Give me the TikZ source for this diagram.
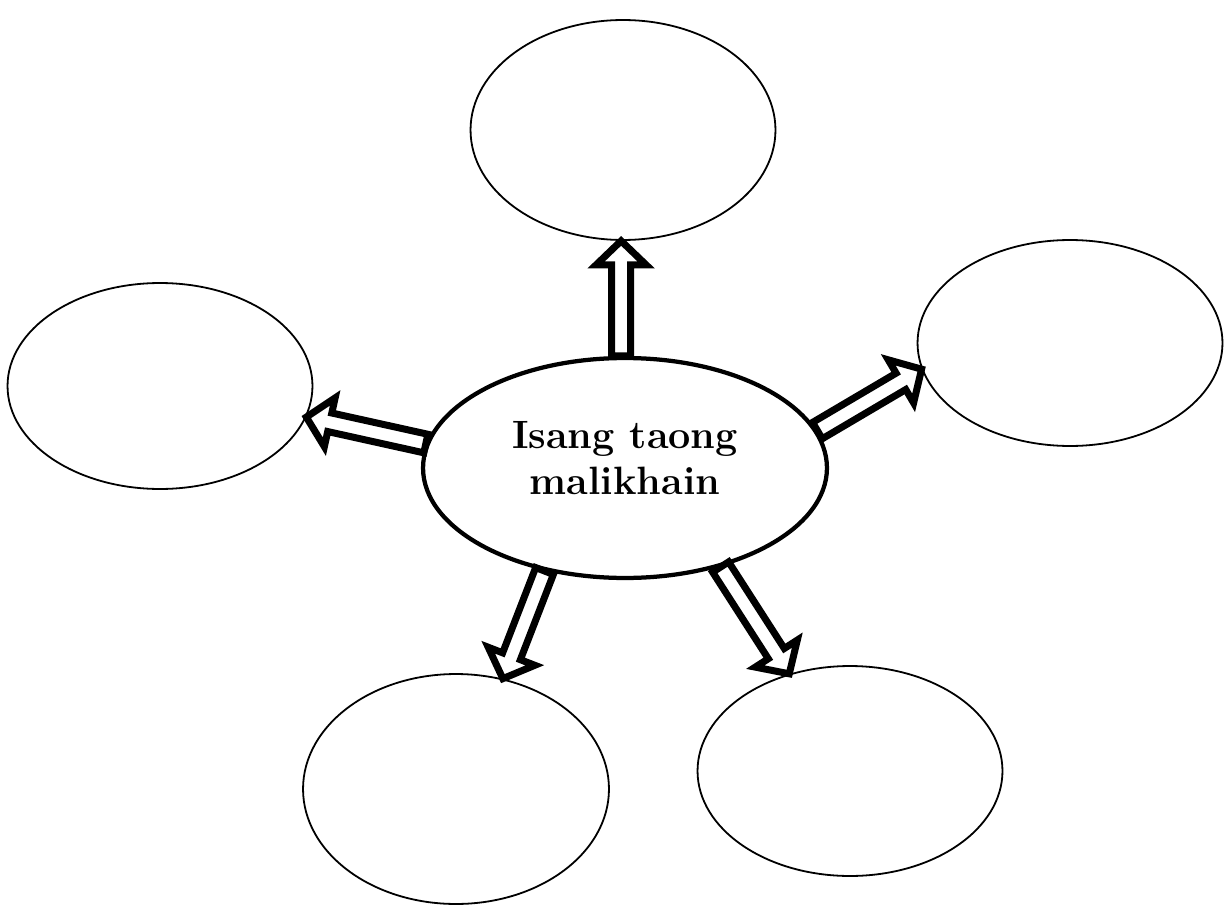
\documentclass[tikz,border=0pt]{standalone}
\usepackage{tikz}
\usetikzlibrary{positioning}
\usetikzlibrary{calc}
\usetikzlibrary{shapes}

\newcommand{\shaftw}{0.19cm}
\newcommand{\headw}{0.5cm}
\newcommand{\headl}{0.48cm}

\begin{document}
\begin{tikzpicture}[x=0.02cm, y=-0.02cm]
	\tikzstyle{bubble}=[ellipse, draw=black, line width=0.036cm, inner sep=0pt]
	\tikzstyle{hub}=[ellipse, draw=black, line width=0.085cm, inner sep=0pt, align=center, font=\fontsize{22.5}{26}\selectfont\bfseries]
	\tikzstyle{fatarrow}=[draw=black, fill=white, line width=0.14cm, line join=miter, to path={
		($(\tikztostart)!\shaftw!-90:(\tikztotarget)$)
		-- ($(\tikztotarget)!\headl!(\tikztostart)!\shaftw!90:(\tikztostart)$)
		-- ($(\tikztotarget)!\headl!(\tikztostart)!\headw!90:(\tikztostart)$)
		-- (\tikztotarget)
		-- ($(\tikztotarget)!\headl!(\tikztostart)!\headw!-90:(\tikztostart)$)
		-- ($(\tikztotarget)!\headl!(\tikztostart)!\shaftw!-90:(\tikztostart)$)
		-- ($(\tikztostart)!\shaftw!90:(\tikztotarget)$)
		-- cycle}]
	
	\useasboundingbox (0,0) rectangle (1226,905);
	
	\draw node at (623, 130) [bubble, minimum width=6.1cm, minimum height=4.4cm] (top) {};
	\draw node at (160, 386) [bubble, minimum width=6.1cm, minimum height=4.12cm] (left) {};
	\draw node at (1070, 343) [bubble, minimum width=6.1cm, minimum height=4.12cm] (right) {};
	\draw node at (456, 789) [bubble, minimum width=6.12cm, minimum height=4.6cm] (botl) {};
	\draw node at (850, 771) [bubble, minimum width=6.1cm, minimum height=4.2cm] (botr) {};
	
	\draw node at (625, 468) [hub, minimum width=8.08cm, minimum height=4.4cm, text depth=0.4cm] (hub) {Isang taong\\malikhain};
	
	\draw[fatarrow] (hub.92) to (hub.92 |- top.south);
	\draw[fatarrow] (hub.173.5) to (left.-12);
	\draw[fatarrow] (hub.11.5) to (right.-170.7);
	\draw[fatarrow] (hub.-128.8) to (botl.67.5);
	\draw[fatarrow] (hub.-46.7) to (botr.122.8);
\end{tikzpicture}
\end{document}
